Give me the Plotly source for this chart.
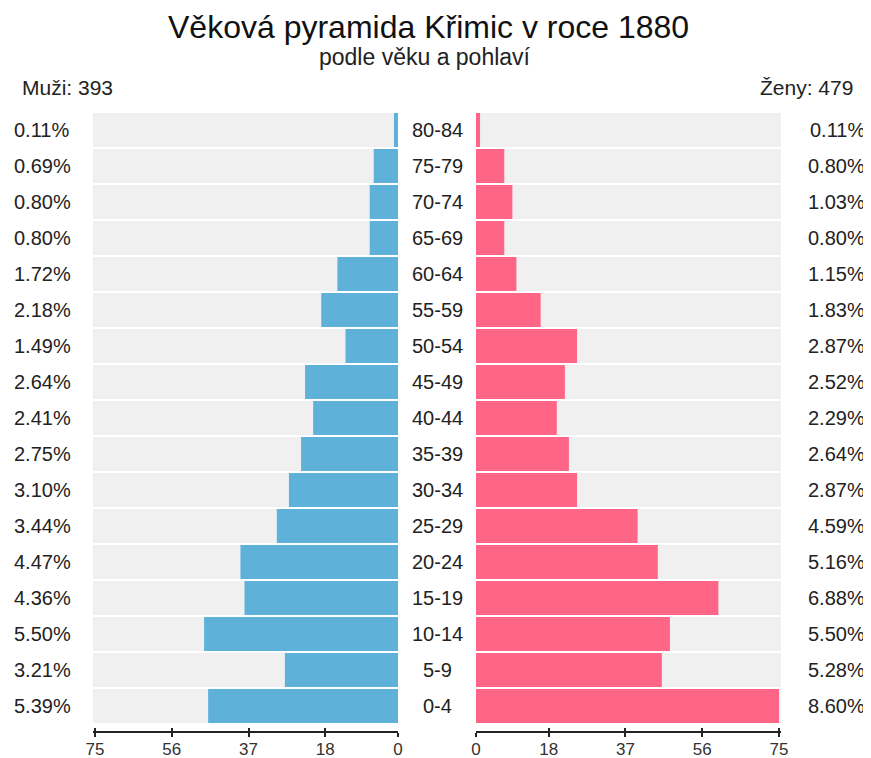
import plotly.graph_objects as go

# Age groups from youngest to oldest (bottom to top of the pyramid)
AGE_GROUPS = ["0-4", "5-9", "10-14", "15-19", "20-24", "25-29", "30-34", "35-39",
              "40-44", "45-49", "50-54", "55-59", "60-64", "65-69", "70-74", "75-79", "80-84"]
MEN = [47, 28, 48, 38, 39, 30, 27, 24, 21, 23, 13, 19, 15, 7, 7, 6, 1]
WOMEN = [75, 46, 48, 60, 45, 40, 25, 23, 20, 22, 25, 16, 10, 7, 9, 7, 1]
TICKS = [0, 18, 37, 56, 75]
AXIS_MAX = 75.5

BLUE = "#5eb1d9"
PINK = "#fe6587"
BACK = "#f0f0f0"
FONT = "Liberation Sans, Arial, sans-serif"

total = sum(MEN) + sum(WOMEN)

# page has an 8px body margin, so lay out in figure coords = screen coords - 8
OFF = 8
W, H = 863, 750
T, B = 104, 26
PH = H - T - B


def px(x):
    return (x - OFF) / W


def py(y):
    return (H - B - (y - OFF)) / PH


fig = go.Figure()

# gray row backgrounds + bars, left (men) and right (women)
for side, vals, color in [("x", MEN, BLUE), ("x2", WOMEN, PINK)]:
    fig.add_trace(go.Bar(
        y=AGE_GROUPS, x=[AXIS_MAX] * len(AGE_GROUPS), orientation="h",
        marker=dict(color=BACK, line_width=0), xaxis=side, yaxis="y",
        hoverinfo="skip", showlegend=False,
    ))
    fig.add_trace(go.Bar(
        y=AGE_GROUPS, x=vals, orientation="h",
        marker=dict(color=color, line_width=0), xaxis=side, yaxis="y",
        showlegend=False,
    ))

# empty traces so the upper tick halves (overlay axes) get drawn
for side in ["x3", "x4"]:
    fig.add_trace(go.Scatter(x=[], y=[], xaxis=side, yaxis="y",
                             showlegend=False, hoverinfo="skip"))

axis_common = dict(
    tickvals=TICKS, ticktext=[str(t) for t in TICKS],
    showgrid=False, zeroline=False, automargin=False,
    showline=True, linecolor="#222", linewidth=1.5,
    ticks="outside", ticklen=4, tickwidth=1.5, tickcolor="#222",
    tickfont=dict(size=17, color="#333", family=FONT), ticklabelstandoff=-2,
    anchor="free", position=0,
)
upper_ticks = dict(
    tickvals=TICKS, showticklabels=False, showgrid=False, zeroline=False,
    showline=False, ticks="inside", ticklen=4, tickwidth=1.5, tickcolor="#222",
    anchor="free", position=0, automargin=False,
)
left_dom = [px(93), px(398)]
right_dom = [px(476), px(781)]

fig.update_layout(
    width=W, height=H,
    barmode="overlay", bargap=0.055,
    paper_bgcolor="white", plot_bgcolor="rgba(0,0,0,0)",
    margin=dict(l=0, r=0, t=T, b=B, autoexpand=False),
    font=dict(family=FONT, color="#222"),
    xaxis=dict(domain=left_dom, range=[AXIS_MAX, 0], **axis_common),
    xaxis2=dict(domain=right_dom, range=[0, AXIS_MAX], **axis_common),
    xaxis3=dict(domain=left_dom, range=[AXIS_MAX, 0], overlaying="x", **upper_ticks),
    xaxis4=dict(domain=right_dom, range=[0, AXIS_MAX], overlaying="x2", **upper_ticks),
    yaxis=dict(domain=[8 / PH, 1], range=[-0.5, len(AGE_GROUPS) - 0.5],
               categoryorder="array", categoryarray=AGE_GROUPS, automargin=False,
               showticklabels=False, showgrid=False, zeroline=False, showline=False),
)

ann = []
for i, age in enumerate(AGE_GROUPS):
    ann.append(dict(x=px(12), y=age, xref="paper", yref="y", xanchor="left",
                    text=f"{MEN[i] / total * 100:.2f}%", showarrow=False,
                    font=dict(size=20, color="#222")))
    ann.append(dict(x=px(867), y=age, xref="paper", yref="y", xanchor="right",
                    text=f"{WOMEN[i] / total * 100:.2f}%", showarrow=False,
                    font=dict(size=20, color="#222")))
    ann.append(dict(x=px(437), y=age, xref="paper", yref="y", xanchor="center",
                    text=age, showarrow=False, font=dict(size=20, color="#222")))

ann += [
    dict(x=px(428), y=py(27), xref="paper", yref="paper", yanchor="middle",
         text="Věková pyramida Křimic v roce 1880", showarrow=False,
         font=dict(size=32, color="#111")),
    dict(x=px(425), y=py(57), xref="paper", yref="paper", yanchor="middle",
         text="podle věku a pohlaví", showarrow=False,
         font=dict(size=23, color="#222")),
    dict(x=px(20), y=py(87), xref="paper", yref="paper", xanchor="left",
         yanchor="middle", text=f"Muži: {sum(MEN)}", showarrow=False,
         font=dict(size=21, color="#222")),
    dict(x=px(855), y=py(87), xref="paper", yref="paper", xanchor="right",
         yanchor="middle", text=f"Ženy: {sum(WOMEN)}", showarrow=False,
         font=dict(size=21, color="#222")),
]
fig.update_layout(annotations=ann)

fig.write_html("out.html")
